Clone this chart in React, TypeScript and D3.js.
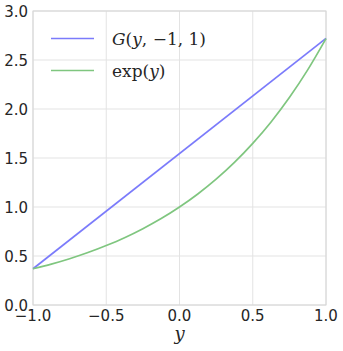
import React from "react";
import * as d3 from "d3";

const xTicks = [-1.0, -0.5, 0.0, 0.5, 1.0];
const yTicks = [0.0, 0.5, 1.0, 1.5, 2.0, 2.5, 3.0];
const xTickLabels = ["\u22121.0", "\u22120.5", "0.0", "0.5", "1.0"];
const yTickLabels = ["0.0", "0.5", "1.0", "1.5", "2.0", "2.5", "3.0"];

const lineX = [-1.0, 1.0];
const lineY = [0.37, 2.72];

const expX = [-1.0, -0.875, -0.75, -0.625, -0.5, -0.375, -0.25, -0.125, 0.0, 0.125, 0.25, 0.375, 0.5, 0.625, 0.75, 0.875, 1.0];
const expY = [0.37, 0.417, 0.472, 0.535, 0.607, 0.687, 0.779, 0.882, 1.0, 1.133, 1.284, 1.455, 1.649, 1.868, 2.117, 2.399, 2.718];

const seriesNames = ["G", "exp"];

export default function App() {
  const W = 343, H = 351;
  const left = 33, right = 326, top = 11, bottom = 305;
  const x = d3.scaleLinear().domain([-1, 1]).range([left, right]);
  const y = d3.scaleLinear().domain([0, 3]).range([bottom, top]);
  const line = d3.line<[number, number]>().x(d => x(d[0])).y(d => y(d[1]));
  const curve = d3.line<[number, number]>().x(d => x(d[0])).y(d => y(d[1])).curve(d3.curveMonotoneX);
  const gData: [number, number][] = lineX.map((v, i) => [v, lineY[i]]);
  const eData: [number, number][] = expX.map((v, i) => [v, expY[i]]);
  const blue = "#7b7bfb";
  const green = "#7fc67f";
  const grid = "#e3e3e3";
  const sans = "'DejaVu Sans', sans-serif";
  const serif = "'DejaVu Serif', 'Liberation Serif', serif";
  return (
    <svg width={W} height={H} style={{ position: "absolute", left: 0, top: 0 }}>
      <rect x={0} y={0} width={W} height={H} fill="#fff" />
      {xTicks.map(t => (
        <line key={"gx" + t} x1={x(t)} x2={x(t)} y1={top} y2={bottom} stroke={grid} strokeWidth={1} />
      ))}
      {yTicks.map(t => (
        <line key={"gy" + t} x1={left} x2={right} y1={y(t)} y2={y(t)} stroke={grid} strokeWidth={1} />
      ))}
      <rect x={left} y={top} width={right - left} height={bottom - top} fill="none" stroke="#d6d6d6" strokeWidth={1} />
      <path d={line(gData) || ""} fill="none" stroke={blue} strokeWidth={1.7} />
      <path d={curve(eData) || ""} fill="none" stroke={green} strokeWidth={1.7} />
      {yTicks.map((t, i) => (
        <text key={"yl" + t} x={left - 5} y={y(t) + 5.5} textAnchor="end" fontFamily={sans} fontSize={15} fill="#262626">
          {yTickLabels[i]}
        </text>
      ))}
      {xTicks.map((t, i) => (
        <text key={"xl" + t} x={x(t)} y={bottom + 16} textAnchor="middle" fontFamily={sans} fontSize={15} fill="#262626">
          {xTickLabels[i]}
        </text>
      ))}
      <text x={(left + right) / 2} y={340} textAnchor="middle" fontFamily={serif} fontStyle="italic" fontSize={18} fill="#262626">y</text>
      <line x1={51} x2={94} y1={38.5} y2={38.5} stroke={blue} strokeWidth={1.7} />
      <line x1={51} x2={94} y1={70.5} y2={70.5} stroke={green} strokeWidth={1.7} />
      <text x={112} y={45} fontFamily={serif} fontSize={17} fill="#262626" data-series={seriesNames[0]}>
        <tspan fontStyle="italic">G</tspan>
        <tspan>(</tspan>
        <tspan fontStyle="italic">y</tspan>
        <tspan>, </tspan>
        <tspan>{"\u2212"}</tspan>
        <tspan>1, 1)</tspan>
      </text>
      <text x={112} y={77} fontFamily={serif} fontSize={17} fill="#262626" data-series={seriesNames[1]}>
        <tspan>exp(</tspan>
        <tspan fontStyle="italic">y</tspan>
        <tspan>)</tspan>
      </text>
    </svg>
  );
}
